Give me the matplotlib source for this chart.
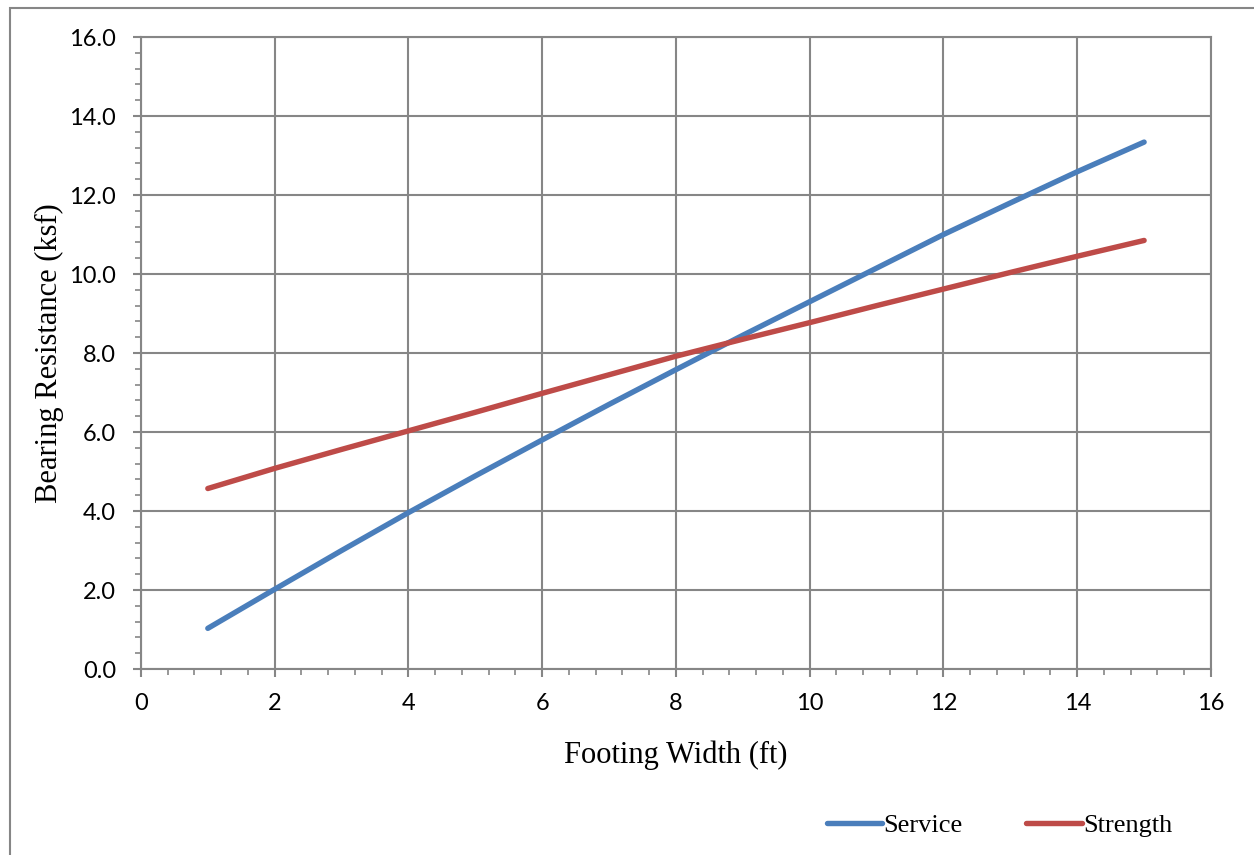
import matplotlib.pyplot as plt
from matplotlib.ticker import MultipleLocator, FormatStrFormatter
from matplotlib.patches import Rectangle

# Values
width_ft = [1, 2, 3, 4, 5, 6, 7, 8, 9, 10, 11, 12, 13, 14, 15]
service = [1.03, 2.02, 3.00, 3.96, 4.89, 5.80, 6.70, 7.58, 8.45, 9.30, 10.15, 11.00, 11.80, 12.59, 13.34]
strength = [4.57, 5.08, 5.56, 6.03, 6.50, 6.98, 7.45, 7.92, 8.35, 8.77, 9.20, 9.62, 10.04, 10.45, 10.85]

grid_col = '#868686'
tick_font = 'Lato'
label_font = 'Liberation Serif'

fig = plt.figure(figsize=(12.54, 8.55), dpi=100)
ax = fig.add_axes([0.1124, 0.2175, 0.8533, 0.7392])

ax.plot(width_ft, service, color='#4A7EBB', lw=3.9, solid_capstyle='round', label='Service', zorder=3)
ax.plot(width_ft, strength, color='#BE4B48', lw=3.9, solid_capstyle='round', label='Strength', zorder=3)

ax.set_xlim(0, 16)
ax.set_ylim(0, 16)
ax.xaxis.set_major_locator(MultipleLocator(2))
ax.xaxis.set_minor_locator(MultipleLocator(0.4))
ax.yaxis.set_major_locator(MultipleLocator(2))
ax.yaxis.set_minor_locator(MultipleLocator(0.4))
ax.yaxis.set_major_formatter(FormatStrFormatter('%.1f'))

ax.grid(True, which='major', color=grid_col, lw=1.5)
ax.set_axisbelow(True)
for s in ax.spines.values():
    s.set_color(grid_col)
    s.set_linewidth(1.5)

ax.tick_params(which='major', direction='out', length=6, width=1.5, color=grid_col, labelsize=17)
ax.tick_params(axis='x', which='major', pad=11)
ax.tick_params(axis='y', which='major', pad=12)
ax.tick_params(which='minor', direction='out', length=4, width=1.2, color=grid_col)
for lab in ax.get_xticklabels() + ax.get_yticklabels():
    lab.set_fontfamily(tick_font)

ax.set_xlabel('Footing Width (ft)', fontsize=22, fontfamily=label_font, labelpad=19)
ax.set_ylabel('Bearing Resistance (ksf)', fontsize=22, fontfamily=label_font, labelpad=4)

leg = fig.legend(loc='center', bbox_to_anchor=(0.797, 0.035), ncol=2, frameon=False,
                 prop={'family': label_font, 'size': 19}, handlelength=2.1,
                 handletextpad=0.05, columnspacing=2.4)

# outer chart frame
fig.add_artist(Rectangle((10 / 1254, -0.1), 1.2, 1 - 8 / 855 + 0.1, transform=fig.transFigure,
                         fill=False, edgecolor=grid_col, lw=1.5))

fig.savefig('out.png', dpi=100)
